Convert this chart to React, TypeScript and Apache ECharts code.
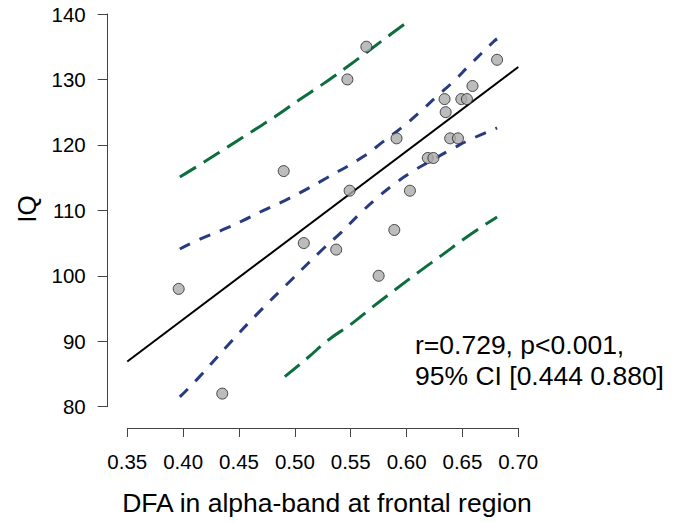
import React, { useEffect, useRef } from "react";
import * as echarts from "echarts";

// Scatter data: DFA exponent vs IQ
const dfaValues = [0.396, 0.435, 0.490, 0.508, 0.537, 0.547, 0.564, 0.549, 0.575, 0.589, 0.591, 0.603, 0.619, 0.624, 0.635, 0.634, 0.639, 0.646, 0.649, 0.654, 0.659, 0.681];
const iqValues = [98, 82, 116, 105, 104, 130, 135, 113, 100, 107, 121, 113, 118, 118, 125, 127, 121, 121, 127, 127, 129, 133];

// Regression line
const fitX = [0.35, 0.70];
const fitY = [86.9, 131.9];

// Confidence band (blue)
const ciUpperX = [0.397, 0.415, 0.435, 0.453, 0.472, 0.491, 0.509, 0.528, 0.562, 0.579, 0.596, 0.611, 0.627, 0.642, 0.655, 0.678, 0.681];
const ciUpperY = [104.1, 105.6, 107.0, 108.4, 110.0, 111.5, 113.1, 114.9, 118.3, 120.5, 122.7, 124.9, 127.4, 129.7, 131.95, 135.8, 136.2];
const ciLowerX = [0.397, 0.412, 0.439, 0.467, 0.497, 0.527, 0.542, 0.557, 0.573, 0.588, 0.606, 0.621, 0.642, 0.658, 0.681];
const ciLowerY = [81.5, 84.1, 89.2, 94.3, 99.4, 104.4, 106.7, 109.3, 111.8, 113.9, 116.0, 117.5, 119.5, 120.9, 122.6];

// Prediction band (green)
const piUpperX = [0.397, 0.418, 0.440, 0.462, 0.483, 0.504, 0.526, 0.549, 0.567, 0.587, 0.601];
const piUpperY = [115.1, 117.3, 119.7, 122.1, 124.4, 126.9, 129.4, 132.2, 134.5, 137.05, 138.8];
const piLowerX = [0.491, 0.511, 0.530, 0.551, 0.570, 0.590, 0.611, 0.632, 0.652, 0.681];
const piLowerY = [84.6, 87.4, 90.2, 92.7, 95.3, 97.9, 100.6, 103.2, 105.7, 109.0];

const xTicks = { min: 0.35, max: 0.7, interval: 0.05 };
const yTicks = { min: 80, max: 140, interval: 10 };

const annotationLines = ["r=0.729, p<0.001,", "95% CI [0.444 0.880]"];
const xTitle = "DFA in alpha-band at frontal region";
const yTitle = "IQ";

const zip = (xs: number[], ys: number[]) => xs.map((x, i) => [x, ys[i]]);

const FONT = "'Liberation Sans', Arial, Helvetica, sans-serif";
const BLUE = "#283b80";
const GREEN = "#0b6e3c";

export default function App() {
  const ref = useRef<HTMLDivElement>(null);

  useEffect(() => {
    if (!ref.current) return;
    const chart = echarts.init(ref.current, undefined, { renderer: "svg" });

    const bandLine = (name: string, data: number[][], color: string, dash: number[]) => ({
      name,
      type: "line",
      data,
      smooth: true,
      showSymbol: false,
      symbol: "none",
      lineStyle: { color, width: 3, type: dash, cap: "butt" },
      z: 3,
    });

    chart.setOption({
      animation: false,
      backgroundColor: "#ffffff",
      textStyle: { fontFamily: FONT },
      grid: { left: 127.3, right: 160.7, top: 14, bottom: 116.3, containLabel: false },
      xAxis: {
        type: "value",
        min: xTicks.min,
        max: xTicks.max,
        interval: xTicks.interval,
        offset: 21.3,
        axisLine: { show: true, onZero: false, lineStyle: { color: "#444", width: 1 } },
        axisTick: { show: true, length: 9, lineStyle: { color: "#444", width: 1 } },
        axisLabel: {
          fontSize: 20.5,
          color: "#000",
          margin: 23,
          fontFamily: FONT,
          formatter: (v: number) => v.toFixed(2),
        },
        splitLine: { show: false },
      },
      yAxis: {
        type: "value",
        min: yTicks.min,
        max: yTicks.max,
        interval: yTicks.interval,
        offset: 19.6,
        axisLine: { show: true, onZero: false, lineStyle: { color: "#444", width: 1 } },
        axisTick: { show: true, length: 10, lineStyle: { color: "#444", width: 1 } },
        axisLabel: { fontSize: 20.5, color: "#000", margin: 22, fontFamily: FONT },
        splitLine: { show: false },
      },
      series: [
        bandLine("piUpper", zip(piUpperX, piUpperY), GREEN, [19, 9]),
        bandLine("piLower", zip(piLowerX, piLowerY), GREEN, [19, 9]),
        bandLine("ciUpper", zip(ciUpperX, ciUpperY), BLUE, [11.5, 10.5]),
        bandLine("ciLower", zip(ciLowerX, ciLowerY), BLUE, [11.5, 10.5]),
        {
          name: "fit",
          type: "line",
          data: zip(fitX, fitY),
          symbol: "none",
          lineStyle: { color: "#000", width: 2 },
          z: 4,
        },
        {
          name: "subjects",
          type: "scatter",
          data: zip(dfaValues, iqValues),
          symbol: "circle",
          symbolSize: 11,
          itemStyle: { color: "#ababab", borderColor: "#222", borderWidth: 1 },
          z: 5,
        },
      ],
      graphic: [
        {
          type: "text",
          x: 415,
          y: 345,
          style: {
            text: annotationLines[0],
            font: `26.5px ${FONT}`,
            fill: "#000",
            textAlign: "left",
            textVerticalAlign: "middle",
          },
        },
        {
          type: "text",
          x: 415,
          y: 376,
          style: {
            text: annotationLines[1],
            font: `26.5px ${FONT}`,
            fill: "#000",
            textAlign: "left",
            textVerticalAlign: "middle",
          },
        },
        {
          type: "text",
          x: 327,
          y: 503,
          style: {
            text: xTitle,
            font: `26.5px ${FONT}`,
            fill: "#000",
            textAlign: "center",
            textVerticalAlign: "middle",
          },
        },
        {
          type: "text",
          x: 27,
          y: 209,
          rotation: Math.PI / 2,
          style: {
            text: yTitle,
            font: `26px ${FONT}`,
            fill: "#000",
            textAlign: "center",
            textVerticalAlign: "middle",
          },
        },
      ],
    });

    return () => chart.dispose();
  }, []);

  return (
    <div
      ref={ref}
      style={{ position: "fixed", left: 0, top: 0, width: 679, height: 523, background: "#fff" }}
    />
  );
}
